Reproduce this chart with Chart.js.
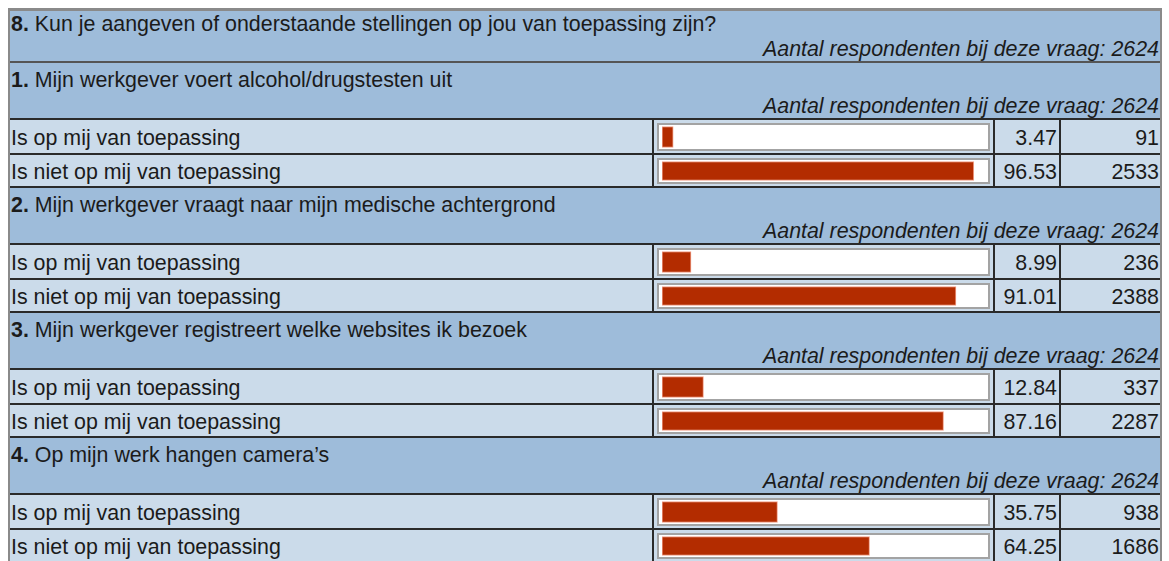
<!DOCTYPE html>
<html><head><meta charset="utf-8">
<script src="https://cdn.jsdelivr.net/npm/chart.js@4"></script>
<style>
html,body{margin:0;padding:0;background:#fff;width:1169px;height:561px;overflow:hidden;font-family:'Liberation Sans',Arial,sans-serif;color:#1b1b1b;}
.abs{position:absolute;box-sizing:border-box;}
.txt{position:absolute;white-space:nowrap;font-size:21.4px;line-height:22px;}
.it{font-style:italic;}
</style></head><body>
<div id="root"></div>
<script>
// ---- data ----
const title = "Kun je aangeven of onderstaande stellingen op jou van toepassing zijn?";
const titleNumber = "8.";
const respondentsLabel = "Aantal respondenten bij deze vraag: ";
const respondents = [2624, 2624, 2624, 2624, 2624];
const statements = [
  "Mijn werkgever voert alcohol/drugstesten uit",
  "Mijn werkgever vraagt naar mijn medische achtergrond",
  "Mijn werkgever registreert welke websites ik bezoek",
  "Op mijn werk hangen camera\u2019s"
];
const answers = ["Is op mij van toepassing", "Is niet op mij van toepassing"];
const pctYes = [3.47, 8.99, 12.84, 35.75];
const pctNo = [96.53, 91.01, 87.16, 64.25];
const countYes = [91, 236, 337, 938];
const countNo = [2533, 2388, 2287, 1686];

// ---- layout ----
const root = document.getElementById('root');
const HEAD_BG = '#9ebcda', ROW_BG = '#cbdbea', LINE = '#2a2a2a';
const L = 8, R = 1162;
function div(cls, css, parent){ const d=document.createElement('div'); d.className=cls; Object.assign(d.style,css); (parent||root).appendChild(d); return d; }
function text(str, x, y, opts){
  const d = div('txt'+(opts&&opts.italic?' it':''), {top:(y-11)+'px'});
  if (opts && opts.right!=null){ d.style.right=(1169-opts.right)+'px'; d.style.textAlign='right'; }
  else d.style.left = x+'px';
  if (opts && opts.bold){ const b=document.createElement('b'); b.textContent=opts.bold; d.appendChild(b); d.appendChild(document.createTextNode(' '+str)); }
  else d.textContent = str;
  return d;
}
// outer border
div('abs',{left:L+'px',top:'8px',width:(R-L)+'px',height:'560px',borderLeft:'2px solid #8a8a8a',borderRight:'2px solid #8a8a8a',borderTop:'3px solid #8a8a8a'});
// main header
div('abs',{left:(L+2)+'px',top:'11px',width:(R-L-4)+'px',height:'52px',background:HEAD_BG,borderBottom:'2px solid #555'});
text(title, 11, 24, {bold:titleNumber});
text(respondentsLabel+respondents[0], 0, 49, {italic:true, right:1159});

const charts = [];
function barCell(value, top, h){
  const box = div('abs',{left:'657px',top:(top+3)+'px',width:'333px',height:(h-5)+'px',background:'#fff',border:'2px solid #a3a3a3'});
  const cv = document.createElement('canvas');
  const w = 329, hh = h-9;
  cv.width = w; cv.height = hh; cv.style.width=w+'px'; cv.style.height=hh+'px'; cv.style.display='block';
  box.appendChild(cv);
  charts.push(new Chart(cv,{
    type:'bar',
    data:{labels:[''],datasets:[{data:[value],backgroundColor:'#b32c00',borderColor:'#f2a088',borderWidth:1,borderSkipped:false,barThickness:hh-3}]},
    options:{indexAxis:'y',responsive:false,maintainAspectRatio:false,animation:false,events:[],
      layout:{padding:{left:3,right:3,top:0,bottom:0}},
      plugins:{legend:{display:false},tooltip:{enabled:false}},
      scales:{x:{display:false,min:0,max:100},y:{display:false}}}
  }));
}
function dataRow(label, pct, cnt, top, h){
  div('abs',{left:(L+2)+'px',top:top+'px',width:(R-L-4)+'px',height:h+'px',background:ROW_BG,borderBottom:'2px solid '+LINE});
  [652,993,1059].forEach(x=>div('abs',{left:x+'px',top:top+'px',width:'2px',height:h+'px',background:LINE}));
  const cy = top + (h-2)/2 + 1;
  text(label, 11, cy);
  text(pct.toFixed(2), 0, cy, {right:1057});
  text(String(cnt), 0, cy, {right:1159});
  barCell(pct, top, h-2);
}
statements.forEach((s,k)=>{
  const hs = 63 + 125*k;
  div('abs',{left:(L+2)+'px',top:hs+'px',width:(R-L-4)+'px',height:'57px',background:HEAD_BG,borderBottom:'2px solid '+LINE});
  text(s, 11, hs+17, {bold:(k+1)+'.'});
  text(respondentsLabel+respondents[k+1], 0, hs+43, {italic:true, right:1159});
  dataRow(answers[0], pctYes[k], countYes[k], hs+57, 35);
  dataRow(answers[1], pctNo[k], countNo[k], hs+92, 33);
});
</script>
</body></html>
